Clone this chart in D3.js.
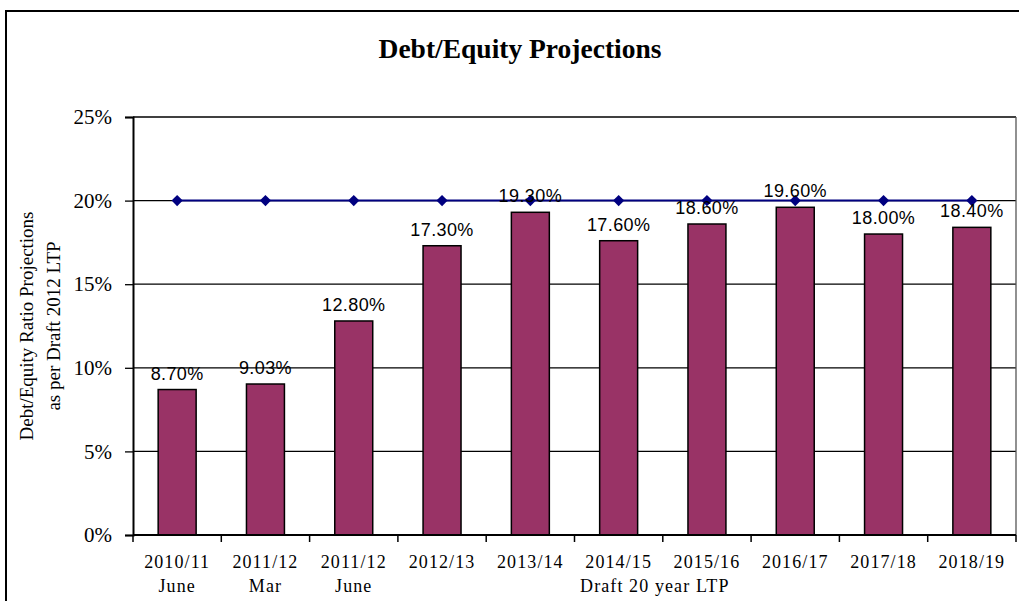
<!DOCTYPE html>
<html>
<head>
<meta charset="utf-8">
<script src="https://cdn.jsdelivr.net/npm/d3@7"></script>
<style>
  html, body { margin: 0; padding: 0; background: #fff; }
  svg { display: block; }
</style>
</head>
<body>
<svg id="chart" width="1019" height="601"></svg>
<script>
// Debt/Equity ratio projections per category
const categories = ["2010/11 June", "2011/12 Mar", "2011/12 June", "2012/13", "2013/14",
                    "2014/15", "2015/16", "2016/17", "2017/18", "2018/19"];
const yearLabels = ["2010/11", "2011/12", "2011/12", "2012/13", "2013/14",
                    "2014/15", "2015/16", "2016/17", "2017/18", "2018/19"];
const subLabels = ["June", "Mar", "June", "", "", "", "", "", "", ""];
const groupLabel = "Draft 20 year LTP";
const ratioValues = [8.70, 9.03, 12.80, 17.30, 19.30, 17.60, 18.60, 19.60, 18.00, 18.40];
const limitValues = [20, 20, 20, 20, 20, 20, 20, 20, 20, 20];
const yTicks = [0, 5, 10, 15, 20, 25];

const svg = d3.select("#chart");
const W = 1019, H = 601;
const plot = { left: 133, right: 1016, top: 117, bottom: 535 };
const serif = "'Liberation Serif', 'Times New Roman', serif";
const sans = "'Liberation Sans', Arial, sans-serif";

// Outer chart frame
svg.append("rect")
  .attr("x", 6).attr("y", 11)
  .attr("width", W + 20).attr("height", H + 20)
  .attr("fill", "#fff").attr("stroke", "#000").attr("stroke-width", 2);

// Title
svg.append("text")
  .attr("x", 520).attr("y", 58)
  .attr("text-anchor", "middle")
  .attr("font-family", serif)
  .attr("font-weight", "bold")
  .attr("font-size", 27.5)
  .text("Debt/Equity Projections");

const x = d3.scaleBand()
  .domain(categories)
  .range([plot.left, plot.right])
  .paddingInner(0).paddingOuter(0);

const y = d3.scaleLinear()
  .domain([0, 25])
  .range([plot.bottom, plot.top]);

// Horizontal gridlines
svg.append("g")
  .selectAll("line")
  .data(yTicks.filter(d => d > 0))
  .join("line")
  .attr("x1", plot.left).attr("x2", plot.right)
  .attr("y1", d => y(d)).attr("y2", d => y(d))
  .attr("stroke", "#000").attr("stroke-width", 1.3);

// Right edge of plot area
svg.append("line")
  .attr("x1", plot.right).attr("x2", plot.right)
  .attr("y1", plot.top).attr("y2", plot.bottom)
  .attr("stroke", "#555").attr("stroke-width", 1.3);

// Bars
const barW = x.bandwidth() * 0.43;
svg.append("g")
  .selectAll("rect")
  .data(ratioValues)
  .join("rect")
  .attr("x", (d, i) => x(categories[i]) + (x.bandwidth() - barW) / 2)
  .attr("y", d => y(d))
  .attr("width", barW)
  .attr("height", d => y(0) - y(d))
  .attr("fill", "#993366")
  .attr("stroke", "#000")
  .attr("stroke-width", 1.5);

// Y axis
const yAxis = d3.axisLeft(y)
  .tickValues(yTicks)
  .tickFormat(d => d + "%")
  .tickSize(8)
  .tickPadding(13);
const gy = svg.append("g")
  .attr("transform", `translate(${plot.left},0)`)
  .call(yAxis);
gy.select(".domain").attr("stroke", "#000").attr("stroke-width", 2);
gy.selectAll(".tick line").attr("stroke", "#000").attr("stroke-width", 1.3);
gy.selectAll(".tick text")
  .attr("font-family", serif)
  .attr("font-size", 21)
  .attr("fill", "#000");

// X axis with ticks at category boundaries
const gx = svg.append("g")
  .attr("transform", `translate(0,${plot.bottom})`);
gx.append("line")
  .attr("x1", plot.left).attr("x2", plot.right)
  .attr("stroke", "#000").attr("stroke-width", 2);
const boundaries = categories.map(c => x(c)).concat([plot.right]);
gx.selectAll("line.tick")
  .data(boundaries)
  .join("line")
  .attr("class", "tick")
  .attr("x1", d => d).attr("x2", d => d)
  .attr("y1", 0).attr("y2", 7)
  .attr("stroke", "#000").attr("stroke-width", 1.5);

gx.selectAll("text.year")
  .data(yearLabels)
  .join("text")
  .attr("class", "year")
  .attr("x", (d, i) => x(categories[i]) + x.bandwidth() / 2)
  .attr("y", 33)
  .attr("text-anchor", "middle")
  .attr("font-family", serif)
  .attr("font-size", 18)
  .attr("letter-spacing", 1.1)
  .text(d => d);
gx.selectAll("text.sub")
  .data(subLabels)
  .join("text")
  .attr("class", "sub")
  .attr("x", (d, i) => x(categories[i]) + x.bandwidth() / 2)
  .attr("y", 57)
  .attr("text-anchor", "middle")
  .attr("font-family", serif)
  .attr("font-size", 18)
  .attr("letter-spacing", 1.1)
  .text(d => d);
gx.append("text")
  .attr("x", x("2015/16") - 8)
  .attr("y", 57)
  .attr("text-anchor", "middle")
  .attr("font-family", serif)
  .attr("font-size", 18)
  .attr("letter-spacing", 1.1)
  .text(groupLabel);

// Limit line with diamond markers
const cx = (d, i) => x(categories[i]) + x.bandwidth() / 2;
svg.append("path")
  .datum(limitValues)
  .attr("d", d3.line().x(cx).y(d => y(d)))
  .attr("fill", "none")
  .attr("stroke", "#000080")
  .attr("stroke-width", 2);
svg.append("g")
  .selectAll("path")
  .data(limitValues)
  .join("path")
  .attr("transform", (d, i) => `translate(${cx(d, i)},${y(d)})`)
  .attr("d", d3.symbol(d3.symbolDiamond2, 80))
  .attr("fill", "#000080");

// Value labels above bars
svg.append("g")
  .selectAll("text")
  .data(ratioValues)
  .join("text")
  .attr("x", cx)
  .attr("y", d => y(d) - 10)
  .attr("text-anchor", "middle")
  .attr("font-family", sans)
  .attr("font-size", 18)
  .attr("letter-spacing", 0.4)
  .text(d => d.toFixed(2) + "%");

// Y axis title
const yt = svg.append("text")
  .attr("transform", "translate(33,326) rotate(-90)")
  .attr("text-anchor", "middle")
  .attr("font-family", serif)
  .attr("font-size", 19);
yt.append("tspan").attr("x", 0).attr("dy", 0).text("Debt/Equity Ratio Projections");
yt.append("tspan").attr("x", 0).attr("dy", 27).text("as per Draft 2012 LTP");
</script>
</body>
</html>
